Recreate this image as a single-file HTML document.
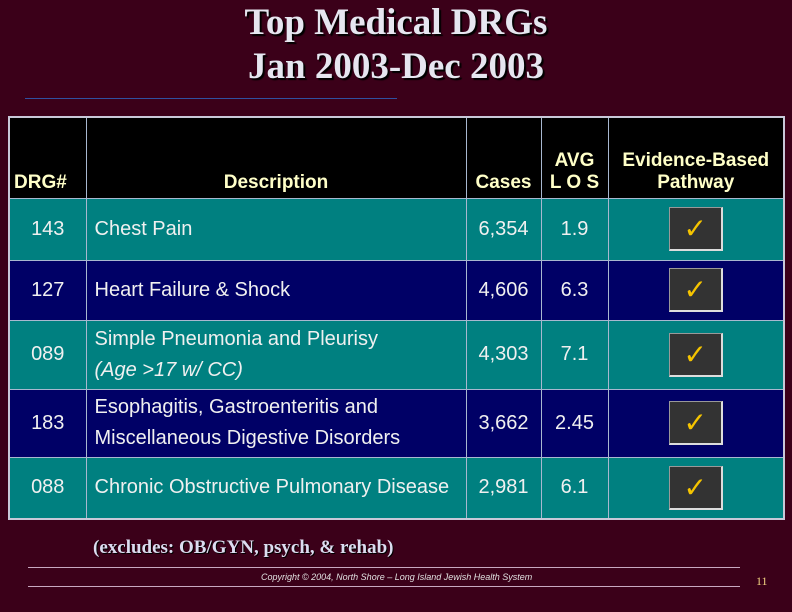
<!DOCTYPE html>
<html><head><meta charset="utf-8"><style>
body{margin:0;width:792px;height:612px;background:#3b0019;position:relative;overflow:hidden;font-family:"Liberation Sans",sans-serif}
.t{position:absolute;left:0;width:792px;text-align:center;font-family:"Liberation Serif",serif;font-weight:bold;font-size:37px;line-height:40px;color:#e6e6f0;text-shadow:2px 2px 1px #000}
table{position:absolute;left:8px;top:116px;border-collapse:collapse;border:2px solid #c8c8d8;table-layout:fixed;width:777px}
td,th{border:1px solid #a8b8d0;color:#f0f0f0;font-size:20px;padding:0}
th{background:#000;color:#ffffc8;font-weight:bold;vertical-align:bottom;padding-bottom:4px;font-size:19px}
.teal td{background:#008080}.navy td{background:#000066}
.box{margin:auto;width:54px;height:44px;background:#333;border:1px solid #999;border-right:2px solid #ddd;border-bottom:2px solid #ddd;color:#f5c400;font-size:28px;line-height:42px;text-align:center;box-sizing:border-box}
</style></head><body>
<div class="t" style="top:3px">Top Medical DRGs</div>
<div class="t" style="top:47px">Jan 2003-Dec 2003</div>
<div style="position:absolute;left:25px;top:98px;width:372px;height:1px;background:#3050a0"></div>
<table>
<colgroup><col style="width:77px"><col style="width:380px"><col style="width:75px"><col style="width:67px"><col style="width:176px"></colgroup>
<tr style="height:81px">
<th style="text-align:left;padding-left:4px">DRG#</th>
<th>Description</th>
<th>Cases</th>
<th>AVG<br>L O S</th>
<th>Evidence-Based<br>Pathway</th></tr>
<tr class="teal" style="height:62px"><td style="text-align:center">143</td><td style="padding-left:8px">Chest Pain</td><td style="text-align:center">6,354</td><td style="text-align:center">1.9</td><td><div class="box">✓</div></td></tr>
<tr class="navy" style="height:60px"><td style="text-align:center">127</td><td style="padding-left:8px">Heart Failure &amp; Shock</td><td style="text-align:center">4,606</td><td style="text-align:center">6.3</td><td><div class="box">✓</div></td></tr>
<tr class="teal" style="height:69px"><td style="text-align:center">089</td><td style="padding-left:8px;line-height:31px">Simple Pneumonia and Pleurisy<br><i>(Age &gt;17 w/ CC)</i></td><td style="text-align:center">4,303</td><td style="text-align:center">7.1</td><td><div class="box">✓</div></td></tr>
<tr class="navy" style="height:68px"><td style="text-align:center">183</td><td style="padding-left:8px;line-height:31px">Esophagitis, Gastroenteritis and<br>Miscellaneous Digestive Disorders</td><td style="text-align:center">3,662</td><td style="text-align:center">2.45</td><td><div class="box">✓</div></td></tr>
<tr class="teal" style="height:62px"><td style="text-align:center">088</td><td style="padding-left:8px;white-space:nowrap">Chronic Obstructive Pulmonary Disease</td><td style="text-align:center">2,981</td><td style="text-align:center">6.1</td><td><div class="box">✓</div></td></tr>
</table>
<div style="position:absolute;left:93px;top:537px;font-family:'Liberation Serif',serif;font-weight:bold;font-size:19px;color:#dcdcf0;text-shadow:1px 1px 0 #000">(excludes: OB/GYN, psych, &amp; rehab)</div>
<div style="position:absolute;left:28px;top:567px;width:712px;height:1px;background:#c8a8c0"></div>
<div style="position:absolute;left:261px;top:572px;font-size:9px;font-style:italic;color:#e0e0e0">Copyright © 2004, North Shore – Long Island Jewish Health System</div>
<div style="position:absolute;left:28px;top:586px;width:712px;height:1px;background:#c8a8c0"></div>
<div style="position:absolute;left:756px;top:574px;font-family:'Liberation Serif',serif;font-size:12px;color:#f0d080">11</div>
</body></html>
